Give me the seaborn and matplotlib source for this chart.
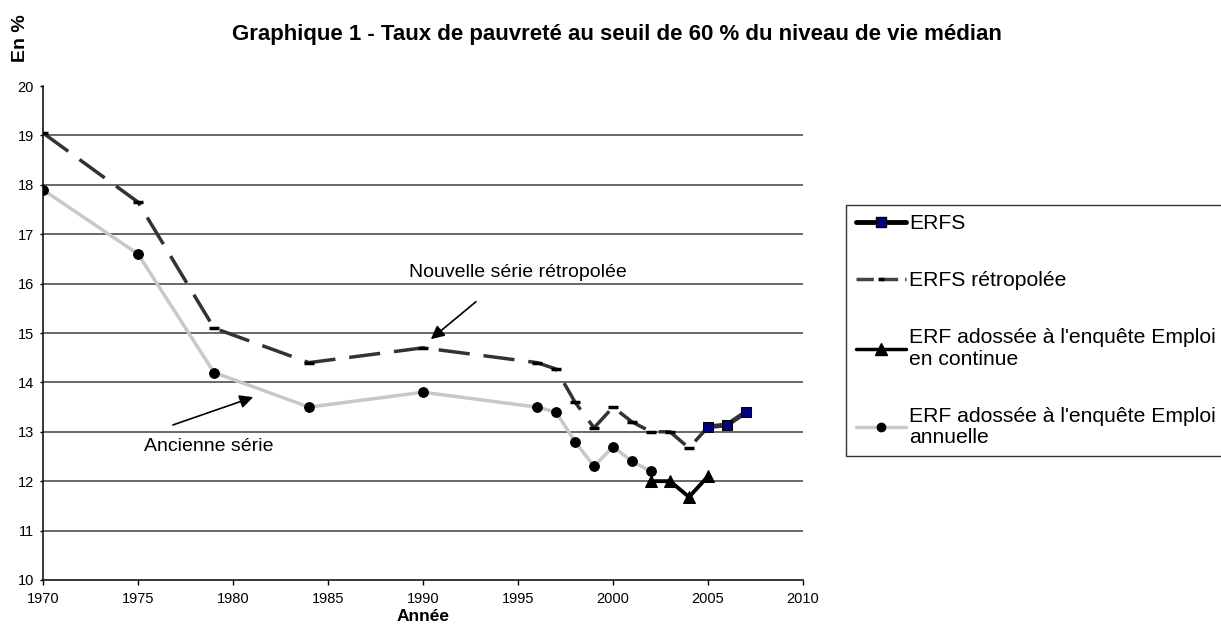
import matplotlib.pyplot as plt
import seaborn as sns
from matplotlib.lines import Line2D

# values
years_erfs = [2005, 2006, 2007]
erfs = [13.1, 13.14, 13.4]

years_retro = [1970, 1975, 1979, 1984, 1990, 1996, 1997, 1998, 1999, 2000, 2001, 2002, 2003, 2004, 2005]
erfs_retro = [19.05, 17.65, 15.1, 14.4, 14.7, 14.4, 14.27, 13.6, 13.08, 13.5, 13.2, 13.0, 13.0, 12.67, 13.1]

years_cont = [2002, 2003, 2004, 2005]
erf_cont = [12.0, 12.0, 11.68, 12.1]

years_ann = [1970, 1975, 1979, 1984, 1990, 1996, 1997, 1998, 1999, 2000, 2001, 2002]
erf_ann = [17.9, 16.6, 14.2, 13.5, 13.8, 13.5, 13.4, 12.8, 12.3, 12.7, 12.4, 12.2]

x_ticks = list(range(1970, 2011, 5))
y_ticks = list(range(10, 21))

sns.set_style("white")
plt.rcParams['font.family'] = ['Liberation Sans', 'DejaVu Sans']
plt.rcParams['text.color'] = 'black'
plt.rcParams['axes.labelcolor'] = 'black'
plt.rcParams['xtick.color'] = 'black'
plt.rcParams['ytick.color'] = 'black'

fig = plt.figure(figsize=(12.21, 6.32), dpi=100)
ax = fig.add_axes([0.0352, 0.0823, 0.6225, 0.7816])

# gridlines
for y in y_ticks[1:-1]:
    ax.axhline(y, color='#404040', lw=1.1, zorder=0)

# series
sns.lineplot(x=years_ann, y=erf_ann, ax=ax, color='#c8c8c8', lw=2.5, marker='o',
             markersize=7, markerfacecolor='black', markeredgecolor='black', zorder=3)
sns.lineplot(x=years_retro, y=erfs_retro, ax=ax, color='#333333', lw=2.5, linestyle=(0, (9, 4)),
             marker='_', markersize=7, markeredgewidth=2.5, markeredgecolor='black', zorder=3)
sns.lineplot(x=years_cont, y=erf_cont, ax=ax, color='black', lw=2.8, marker='^',
             markersize=9, markerfacecolor='black', markeredgecolor='black', zorder=4)
sns.lineplot(x=years_erfs, y=erfs, ax=ax, color='#333333', lw=3.5, marker='s',
             markersize=7, markerfacecolor='#000080', markeredgecolor='black', zorder=5)

ax.set_xlim(1970, 2010)
ax.set_ylim(10, 20)
ax.set_xticks(x_ticks)
ax.set_yticks(y_ticks)
ax.tick_params(axis='x', direction='out', length=3.6, width=1,
               labelsize=10.5, bottom=True, pad=5)
ax.tick_params(axis='y', direction='out', length=2.5, width=1,
               labelsize=10.5, left=True, pad=4)
for s in ['top', 'right']:
    ax.spines[s].set_visible(False)
for s in ['left', 'bottom']:
    ax.spines[s].set_color('black')
    ax.spines[s].set_linewidth(1.1)

ax.set_xlabel('Année', fontsize=12.5, fontweight='bold', labelpad=2)
ax.set_ylabel('')

# annotations
ax.annotate('', xy=(1990.3, 14.84), xytext=(1992.9, 15.67),
            arrowprops=dict(arrowstyle='-|>', color='black', lw=1.2, mutation_scale=20))
ax.text(1995, 16.23, 'Nouvelle série rétropolée', fontsize=14, ha='center', va='center')
ax.annotate('', xy=(1981.2, 13.72), xytext=(1976.7, 13.12),
            arrowprops=dict(arrowstyle='-|>', color='black', lw=1.2, mutation_scale=20))
ax.text(1978.7, 12.7, 'Ancienne série', fontsize=14, ha='center', va='center')

# titles
fig.text(0.505, 0.946, 'Graphique 1 - Taux de pauvreté au seuil de 60 % du niveau de vie médian',
         fontsize=16, fontweight='bold', ha='center', va='center')
fig.text(0.0164, 0.94, 'En %', fontsize=14, fontweight='bold', rotation=90, ha='center', va='center')

# legend
handles = [
    Line2D([], [], color='black', lw=3.5, marker='s', markersize=7,
           markerfacecolor='#000080', markeredgecolor='black'),
    Line2D([], [], color='#444444', lw=2.5, linestyle=(0, (5, 2)), marker='_',
           markersize=5, markeredgewidth=2.5, markeredgecolor='black'),
    Line2D([], [], color='black', lw=2.5, marker='^', markersize=8,
           markerfacecolor='black'),
    Line2D([], [], color='#c8c8c8', lw=2.5, marker='o', markersize=6,
           markerfacecolor='black', markeredgecolor='black'),
]
labels = ['ERFS', 'ERFS rétropolée', "ERF adossée à l'enquête Emploi\nen continue",
          "ERF adossée à l'enquête Emploi\nannuelle"]
leg = fig.legend(handles, labels, loc='upper left', bbox_to_anchor=(0.693, 0.676),
                 fontsize=15.2, frameon=True, fancybox=False, edgecolor='black',
                 handlelength=2.4, handletextpad=0.15, labelspacing=1.8,
                 borderpad=0.45, borderaxespad=0)
leg.get_frame().set_linewidth(1.0)
for t in leg.get_texts():
    t.set_linespacing(1.15)

fig.savefig('out.png', dpi=100)
